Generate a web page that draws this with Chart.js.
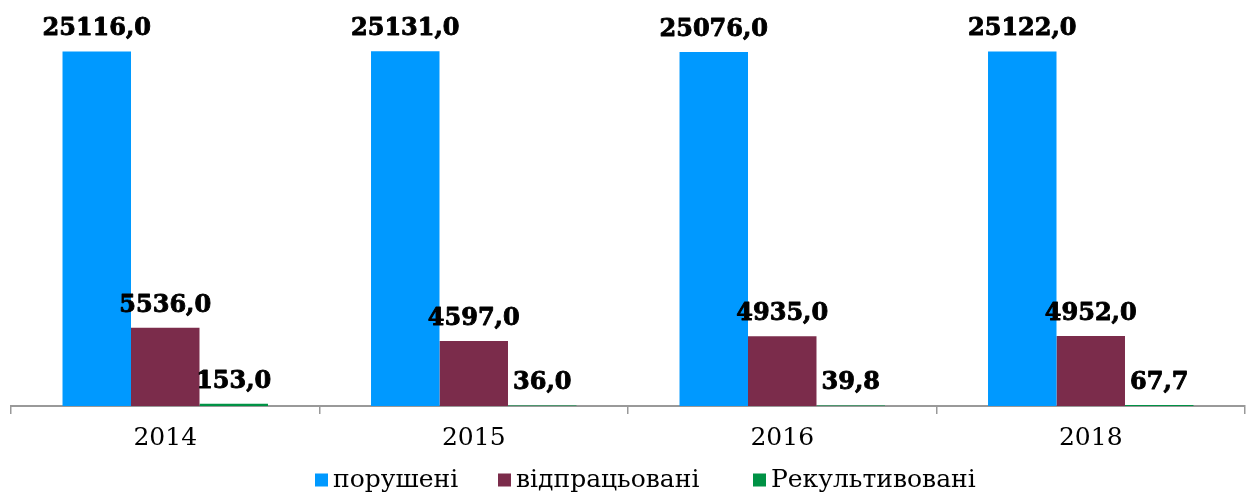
<!DOCTYPE html>
<html>
<head>
<meta charset="utf-8">
<script src="https://cdn.jsdelivr.net/npm/chart.js@4/dist/chart.umd.min.js"></script>
<style>
  html, body { margin: 0; padding: 0; background: #fff; }
  #wrap { width: 1251px; height: 493px; position: relative; }
</style>
</head>
<body>
<div id="wrap"><canvas id="chart"></canvas></div>
<script>
// Years shown on the category axis
const years = ['2014', '2015', '2016', '2018'];

// Land areas by state, one array per series
const disturbed = [25116.0, 25131.0, 25076.0, 25122.0];   // порушені
const workedOut = [5536.0, 4597.0, 4935.0, 4952.0];       // відпрацьовані
const reclaimed = [153.0, 36.0, 39.8, 67.7];              // Рекультивовані

const seriesNames = ['порушені', 'відпрацьовані', 'Рекультивовані'];
const seriesColors = ['#0099FF', '#7B2C4B', '#009245'];

const LABEL_FONT = 'bold 24px "DejaVu Serif"';
const TEXT_FONT = '25px "DejaVu Serif"';

// Value labels written above each bar, with a comma as decimal separator
const valueLabels = {
  id: 'valueLabels',
  afterDatasetsDraw(chart) {
    const ctx = chart.ctx;
    ctx.save();
    ctx.font = LABEL_FONT;
    ctx.fillStyle = '#000';
    ctx.strokeStyle = '#000';
    ctx.lineWidth = 0.9;
    ctx.lineJoin = 'round';
    ctx.textAlign = 'center';
    ctx.textBaseline = 'alphabetic';
    chart.data.datasets.forEach((ds, i) => {
      const meta = chart.getDatasetMeta(i);
      meta.data.forEach((bar, j) => {
        const text = ds.data[j].toFixed(1).replace('.', ',');
        ctx.fillText(text, bar.x, bar.y - 16);
        ctx.strokeText(text, bar.x, bar.y - 16);
      });
    });
    ctx.restore();
  }
};

// Legend row under the axis: square swatch, short gap, series name
const legendRow = {
  id: 'legendRow',
  afterDraw(chart) {
    const ctx = chart.ctx;
    const box = 13, gapText = 5;
    const itemX = [315, 498, 753];
    const centerY = 480;
    ctx.save();
    ctx.font = TEXT_FONT;
    ctx.textBaseline = 'middle';
    ctx.textAlign = 'left';
    chart.data.datasets.forEach((ds, i) => {
      const x = itemX[i];
      ctx.fillStyle = ds.backgroundColor;
      ctx.fillRect(x, centerY - box / 2, box, box);
      ctx.fillStyle = '#000';
      ctx.fillText(ds.label, x + box + gapText, centerY);
    });
    ctx.restore();
  }
};

Chart.defaults.font.family = '"DejaVu Serif", serif';
Chart.defaults.color = '#000';

new Chart(document.getElementById('chart'), {
  type: 'bar',
  data: {
    labels: years,
    datasets: [
      { label: seriesNames[0], data: disturbed, backgroundColor: seriesColors[0] },
      { label: seriesNames[1], data: workedOut, backgroundColor: seriesColors[1] },
      { label: seriesNames[2], data: reclaimed, backgroundColor: seriesColors[2] }
    ]
  },
  options: {
    responsive: true,
    maintainAspectRatio: false,
    animation: false,
    datasets: {
      bar: { categoryPercentage: 0.666, barPercentage: 1.0 }
    },
    layout: { padding: { left: 11, right: 6, top: 39, bottom: 31 } },
    scales: {
      x: {
        offset: true,
        grid: {
          offset: true,
          display: true,
          drawOnChartArea: false,
          drawTicks: true,
          tickLength: 8,
          color: '#999999',
          lineWidth: 1.5
        },
        border: { display: true, color: '#999999', width: 2 },
        ticks: { font: { size: 25 }, color: '#000', padding: 9 }
      },
      y: {
        display: false,
        min: 0,
        max: 26000
      }
    },
    plugins: {
      legend: { display: false },
      tooltip: { enabled: false }
    }
  },
  plugins: [valueLabels, legendRow]
});
</script>
</body>
</html>
